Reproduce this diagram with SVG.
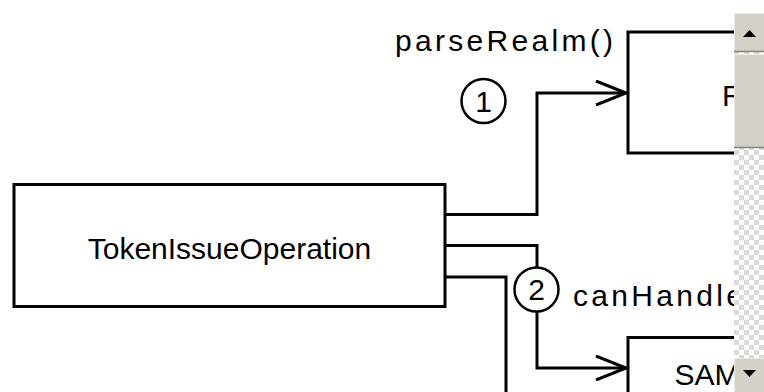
<svg xmlns="http://www.w3.org/2000/svg" width="764" height="392" viewBox="0 0 764 392">
<style>
.box{fill:#ffffff;stroke:#000000;stroke-width:3}
.ln{fill:none;stroke:#000000;stroke-width:3}
.node{font-family:"Liberation Sans",Arial,sans-serif;font-size:30px;fill:#000000}
.lbl{font-family:"Liberation Sans",Arial,sans-serif;font-size:30px;fill:#000000;letter-spacing:3.3px}
.num{font-family:"Liberation Sans",Arial,sans-serif;font-size:30px;fill:#000000;text-anchor:middle}
.circ{fill:#ffffff;stroke:#000000;stroke-width:2.5}
.sb{fill:#d4d0c8}
</style>
<defs>
<marker id="open" viewBox="0 0 32 26" refX="31" refY="13" markerWidth="32" markerHeight="26" markerUnits="userSpaceOnUse" orient="auto">
<path d="M1,1 L31,13 L1,25" fill="none" stroke="#000000" stroke-width="3"/>
</marker>
<pattern id="chk" width="10" height="10" patternUnits="userSpaceOnUse" x="734" y="0">
<rect width="10" height="10" fill="#ffffff"/>
<rect width="5" height="5" fill="#dcdad6"/>
<rect x="5" y="5" width="5" height="5" fill="#dcdad6"/>
</pattern>
</defs>
<rect width="764" height="392" fill="#ffffff"/>
<g id="node-token">
<rect class="box" x="14" y="184.5" width="431" height="122"/>
<text class="node" x="229.5" y="258.5" text-anchor="middle">TokenIssueOperation</text>
</g>
<g id="node-realm">
<rect class="box" x="628" y="32" width="431" height="121"/>
<text class="node" x="722" y="106">R</text>
</g>
<g id="node-sam">
<rect class="box" x="628" y="337.5" width="431" height="122"/>
<text class="node" x="674.5" y="385">SAM</text>
</g>
<g id="connectors">
<polyline class="ln" points="445,214.5 537,214.5 537,93 626,93" marker-end="url(#open)"/>
<polyline class="ln" points="445,245.5 537,245.5 537,368 626,368" marker-end="url(#open)"/>
<polyline class="ln" points="445,277 506,277 506,392"/>
</g>
<g id="label-1">
<text class="lbl" x="395" y="51">parseRealm()</text>
<circle class="circ" cx="483.5" cy="101" r="22"/>
<text class="num" x="483.5" y="111.5">1</text>
</g>
<g id="label-2">
<circle class="circ" cx="536.5" cy="289.5" r="22"/>
<text class="num" x="536.5" y="300">2</text>
<text class="lbl" x="573" y="306">canHandle</text>
</g>
<g id="scrollbar">
<rect x="734" y="13" width="30" height="379" fill="url(#chk)"/>
<rect class="sb" x="734" y="13" width="30" height="38"/>
<line x1="734.5" y1="13" x2="734.5" y2="51" stroke="#ecebe7" stroke-width="1"/>
<line x1="734" y1="13.5" x2="764" y2="13.5" stroke="#ecebe7" stroke-width="1"/>
<line x1="734" y1="51.5" x2="764" y2="51.5" stroke="#808080" stroke-width="1.5"/>
<polygon points="743,37 756,37 749.5,30" fill="#000000"/>
<rect class="sb" x="734" y="54" width="30" height="93"/>
<line x1="734.5" y1="54" x2="734.5" y2="147" stroke="#ecebe7" stroke-width="1"/>
<line x1="734" y1="54.5" x2="764" y2="54.5" stroke="#ecebe7" stroke-width="1"/>
<line x1="734" y1="147.5" x2="764" y2="147.5" stroke="#808080" stroke-width="1.5"/>
<rect class="sb" x="734" y="358" width="30" height="34"/>
<line x1="734.5" y1="358" x2="734.5" y2="392" stroke="#ecebe7" stroke-width="1"/>
<line x1="734" y1="358.5" x2="764" y2="358.5" stroke="#ecebe7" stroke-width="1"/>
<polygon points="743,370 756,370 749.5,377" fill="#000000"/>
</g>
</svg>
